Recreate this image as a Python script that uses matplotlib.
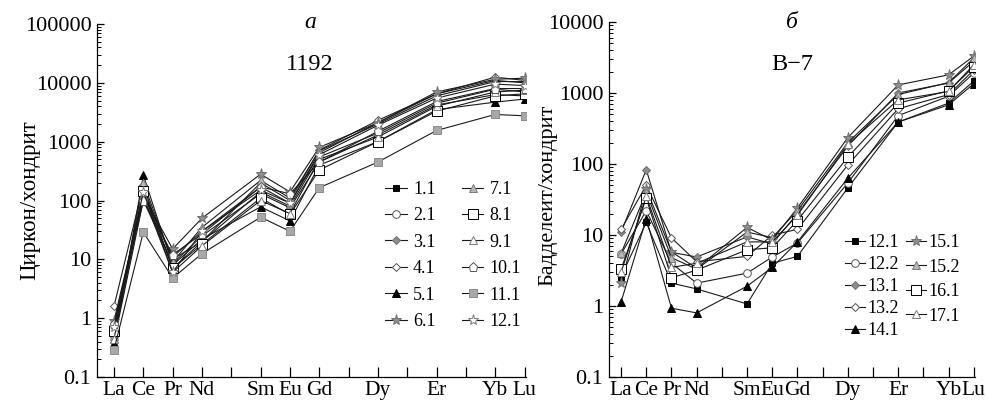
import matplotlib
matplotlib.use("Agg")
import matplotlib.pyplot as plt
from matplotlib.ticker import LogLocator, FixedLocator, NullFormatter

plt.rcParams["font.family"] = ["Liberation Serif", "DejaVu Serif"]

# REE order on the x axis (every element gets a tick, only measured ones get a label)
ELEMENTS = ["La", "Ce", "Pr", "Nd", "Pm", "Sm", "Eu", "Gd", "Tb", "Dy", "Ho", "Er", "Tm", "Yb", "Lu"]
MEASURED = ["La", "Ce", "Pr", "Nd", "Sm", "Eu", "Gd", "Dy", "Er", "Yb", "Lu"]

# panel a: zircon 1192, chondrite-normalised
ZRN_LABELS = ["1.1", "2.1", "3.1", "4.1", "5.1", "6.1",
              "7.1", "8.1", "9.1", "10.1", "11.1", "12.1"]
zrn_1_1 = [0.55, 130, 11, 30, 170, 90, 650, 2100, 6500, 11000, 10000]
zrn_2_1 = [0.5, 150, 10, 20, 140, 80, 550, 1400, 4500, 7800, 7000]
zrn_3_1 = [0.4, 100, 8.5, 25, 130, 75, 450, 1300, 4200, 6300, 6000]
zrn_4_1 = [1.6, 180, 7, 20, 200, 100, 720, 2300, 6500, 12500, 11000]
zrn_5_1 = [0.38, 270, 8, 22, 78, 45, 400, 1000, 3500, 4700, 5300]
zrn_6_1 = [0.9, 120, 15, 50, 280, 140, 800, 2100, 7000, 11500, 12000]
zrn_7_1 = [0.5, 200, 9, 35, 220, 110, 700, 2000, 6000, 10500, 10500]
zrn_8_1 = [0.6, 145, 7, 18, 110, 58, 330, 1000, 3300, 6000, 6500]
zrn_9_1 = [0.45, 120, 6, 17, 100, 60, 500, 1200, 4000, 7000, 7500]
zrn_10_1 = [0.8, 100, 12, 27, 170, 130, 450, 1500, 4800, 8000, 8000]
zrn_11_1 = [0.29, 29, 4.8, 12.5, 52, 30, 165, 450, 1550, 2900, 2750]
zrn_12_1 = [0.7, 140, 6, 30, 150, 90, 600, 1900, 5500, 9500, 9000]
ZRN_VALUES = [zrn_1_1, zrn_2_1, zrn_3_1, zrn_4_1, zrn_5_1, zrn_6_1,
              zrn_7_1, zrn_8_1, zrn_9_1, zrn_10_1, zrn_11_1, zrn_12_1]

# panel b: baddeleyite B-7
BDY_LABELS = ["12.1", "12.2", "13.1", "13.2", "14.1",
              "15.1", "15.2", "16.1", "17.1"]
bdy_12_1 = [2.6, 15, 2.1, 1.74, 1.07, 4.0, 5.0, 46, 390, 720, 1470]
bdy_12_2 = [5.4, 22, 4.0, 2.1, 2.9, 4.9, 7.7, 54, 480, 900, 1900]
bdy_13_1 = [11, 83, 5.7, 4.9, 9.4, 7.5, 20, 178, 1000, 1380, 2800]
bdy_13_2 = [12, 50, 9.1, 4.2, 5.0, 10, 12, 97, 600, 950, 2100]
bdy_14_1 = [1.14, 17, 0.93, 0.8, 1.9, 3.5, 8, 63, 390, 680, 1350]
bdy_15_1 = [2.1, 45, 5.8, 3.4, 12.8, 8.5, 24, 235, 1300, 1800, 3300]
bdy_15_2 = [5.5, 40, 4.8, 3.3, 11, 9.2, 22, 200, 950, 1400, 3100]
bdy_16_1 = [3.3, 33, 2.5, 3.2, 6.2, 6.6, 16, 125, 720, 1070, 2330]
bdy_17_1 = [3.0, 35, 3.5, 4.0, 8, 8, 19, 190, 800, 1050, 2500]
BDY_VALUES = [bdy_12_1, bdy_12_2, bdy_13_1, bdy_13_2, bdy_14_1,
              bdy_15_1, bdy_15_2, bdy_16_1, bdy_17_1]

GRAY = "#8e8e8e"
LIGHT = "#b8b8b8"
EDGE = "#555555"

# marker, size, face, edge
STYLE = {
    "black_sq": ("s", 4.5, "black", "black"),
    "white_circ": ("o", 5.5, "white", EDGE),
    "gray_dia": ("D", 4.5, GRAY, "#6f6f6f"),
    "white_dia": ("D", 4.5, "white", EDGE),
    "black_tri": ("^", 5.5, "black", "black"),
    "gray_star": ("*", 8, GRAY, "#6f6f6f"),
    "gray_tri": ("^", 5.5, LIGHT, "#7a7a7a"),
    "white_sq": ("s", 6.5, "white", "black"),
    "white_tri": ("^", 5.5, "white", "#7a7a7a"),
    "white_pent": ("p", 6.5, "white", EDGE),
    "gray_sq": ("s", 5.5, "#a8a8a8", "#8a8a8a"),
    "white_star": ("*", 8, "white", "#7a7a7a"),
}
ZRN_STYLES = ["black_sq", "white_circ", "gray_dia", "white_dia", "black_tri", "gray_star",
              "gray_tri", "white_sq", "white_tri", "white_pent", "gray_sq", "white_star"]
BDY_STYLES = ["black_sq", "white_circ", "gray_dia", "white_dia", "black_tri",
              "gray_star", "gray_tri", "white_sq", "white_tri"]

W, H = 988, 404


def fx(px):
    return px / W


def fy(py):
    return 1 - py / H


def draw_series(ax, labels, values, styles):
    xs = [ELEMENTS.index(e) for e in MEASURED]
    lines = []
    for lab, vals, st in zip(labels, values, styles):
        m, ms, fc, ec = STYLE[st]
        ln, = ax.plot(xs, vals, color="#1a1a1a", lw=0.8, marker=m, ms=ms,
                      mfc=fc, mec=ec, mew=0.7, label=lab)
        lines.append(ln)
    return lines


def setup_axes(ax, ymin, ymax, xmin):
    ax.set_yscale("log")
    ax.set_ylim(ymin, ymax)
    ax.set_xlim(xmin, 14.05)
    ax.spines["top"].set_visible(False)
    ax.spines["right"].set_visible(False)
    for s in ("left", "bottom"):
        ax.spines[s].set_linewidth(0.9)
    ax.xaxis.set_major_locator(FixedLocator(range(len(ELEMENTS))))
    ax.set_xticklabels([e if e in MEASURED else "" for e in ELEMENTS], fontsize=15.5)
    ax.yaxis.set_major_locator(LogLocator(base=10, numticks=20))
    ax.yaxis.set_minor_locator(LogLocator(base=10, subs=range(2, 10), numticks=100))
    ax.yaxis.set_minor_formatter(NullFormatter())
    ax.yaxis.set_major_formatter(plt.FuncFormatter(lambda v, p: f"{v:g}" if v < 1 else f"{int(round(v))}"))
    ax.tick_params(axis="x", direction="in", length=7, width=0.9, pad=3)
    ax.tick_params(axis="y", which="major", direction="in", length=5, width=0.9, labelsize=16, pad=4)
    ax.tick_params(axis="y", which="minor", direction="in", length=3, width=0.7)
    ax.set_facecolor("none")


fig = plt.figure(figsize=(W / 100, H / 100), dpi=100)

# panel a
ax1 = fig.add_axes([fx(97), fy(377), fx(526) - fx(97), fy(24) - fy(377)])
setup_axes(ax1, 0.1, 1e5, -0.58)
lines1 = draw_series(ax1, ZRN_LABELS, ZRN_VALUES, ZRN_STYLES)
ax1.legend(handles=lines1, ncol=2, loc="upper left", bbox_to_anchor=(fx(385), fy(181)),
           bbox_transform=fig.transFigure, frameon=False, fontsize=13, borderpad=0,
           borderaxespad=0, handlelength=1.2, handletextpad=0.35, labelspacing=0.52,
           columnspacing=1.45)
fig.text(fx(30), fy(200), "Циркон/хондрит", rotation=90, ha="center", va="center", fontsize=16.5)
fig.text(fx(310), fy(23), "а", style="italic", ha="center", va="center", fontsize=17)
fig.text(fx(310), fy(65), "1192", ha="center", va="center", fontsize=17.5)

# panel b
ax2 = fig.add_axes([fx(609), fy(377), fx(975) - fx(609), fy(22) - fy(377)])
setup_axes(ax2, 0.1, 1e4, -0.48)
lines2 = draw_series(ax2, BDY_LABELS, BDY_VALUES, BDY_STYLES)
leg_a = ax2.legend(handles=lines2[:5], loc="upper left", bbox_to_anchor=(fx(845), fy(234)),
                   bbox_transform=fig.transFigure, frameon=False, fontsize=13, borderpad=0,
                   borderaxespad=0, handlelength=1.1, handletextpad=0.15, labelspacing=0.28)
ax2.add_artist(leg_a)
ax2.legend(handles=lines2[5:], loc="upper left", bbox_to_anchor=(fx(906), fy(234)),
           bbox_transform=fig.transFigure, frameon=False, fontsize=13, borderpad=0,
           borderaxespad=0, handlelength=1.1, handletextpad=0.15, labelspacing=0.42)
fig.text(fx(548), fy(195), "Бадделеит/хондрит", rotation=90, ha="center", va="center", fontsize=16)
fig.text(fx(792), fy(22), "б", style="italic", ha="center", va="center", fontsize=17)
fig.text(fx(792), fy(64), "B\u22127", ha="center", va="center", fontsize=17.5)

fig.savefig("out.png", dpi=100, facecolor="white")
